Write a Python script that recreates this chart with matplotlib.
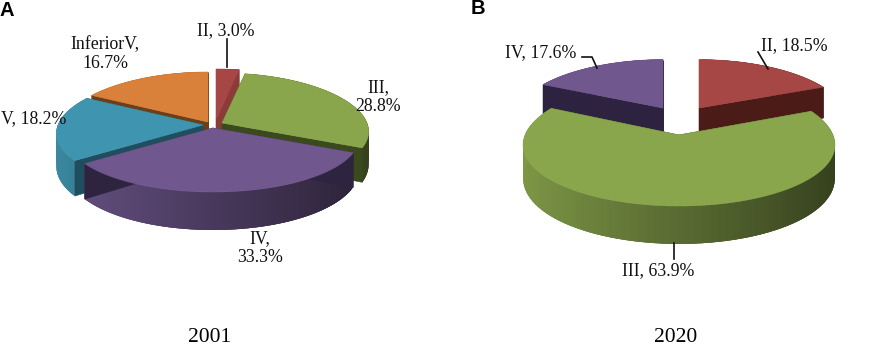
import numpy as np
import matplotlib
matplotlib.use("Agg")
import matplotlib.pyplot as plt
from matplotlib.colors import to_rgb

# Pie A (2001)
names_a = ["II", "III", "IV", "V", "InferiorV"]
values_a = [3.0, 28.8, 33.3, 18.2, 16.7]
# Pie B (2020)
names_b = ["II", "III", "IV"]
values_b = [18.5, 63.9, 17.6]
years = ["2001", "2020"]

RED = "#A64745"
GREEN = "#8AA64D"
PURPLE = "#70588F"
TEAL = "#3F95AF"
ORANGE = "#D9813A"


def project(ang, cx, cy, geo, scale=(1.0, 1.0)):
    # clockwise from the top, with a rough perspective: front is bigger than back
    yn = -np.cos(ang)
    x = cx + scale[0] * np.sin(ang) * (geo["a"] + geo["ak"] * yn)
    y = cy + scale[1] * yn * (geo["b"] + geo["bk"] * yn)
    return x, y


def depth(ang, geo):
    return geo["d"] + geo["dk"] * (-np.cos(ang))


def draw_pie(ax, values, colors, side_colors, apexes, scales, geo):
    edges = np.radians(np.concatenate([[0], np.cumsum(values)]) * 3.6)
    mids = (edges[:-1] + edges[1:]) / 2
    # back slices first
    for i in np.argsort(-np.cos(mids)):
        cx, cy = apexes[i]
        rgb = np.array(to_rgb(colors[i]))
        angs = np.linspace(edges[i], edges[i + 1], 90)
        x, y = project(angs, cx, cy, geo, scales[i])
        d = depth(angs, geo)

        # outer wall, shaded from left to right; strips overlap so no seams show
        for j in range(len(angs) - 1):
            n = min(j + 3, len(angs) - 1)
            f = 0.65 - 0.27 * np.sin(angs[j])
            ax.fill([x[j], x[n], x[n], x[j]],
                    [y[j], y[n], y[n] + d[n], y[j] + d[j]],
                    facecolor=tuple(rgb * f), edgecolor="none", zorder=2)

        # the two cut faces
        for k in (0, -1):
            ax.fill([cx, x[k], x[k], cx],
                    [cy, y[k], y[k] + d[k], cy + geo["d"]],
                    color=side_colors[i], lw=0.4, zorder=2)

        # top face
        ax.fill(np.r_[cx, x], np.r_[cy, y], color=colors[i], lw=0.4, zorder=2)


fig = plt.figure(figsize=(8.72, 3.48), dpi=100)
ax = fig.add_axes([0, 0, 1, 1])
ax.set_xlim(0, 872)
ax.set_ylim(348, 0)
ax.axis("off")

geo_a = {"a": 145, "ak": 22, "b": 57, "bk": 7, "d": 32, "dk": 6}
geo_b = {"a": 154, "ak": 25, "b": 63, "bk": 8, "d": 33, "dk": 5}

draw_pie(ax, values_a, [RED, GREEN, PURPLE, TEAL, ORANGE],
         ["#8D3B38", "#3B4A1C", "#2E2440", "#1F4F5F", "#6B3F17"],
         [(216, 119), (222, 123), (213, 128), (203, 125), (208, 122)],
         [(1, 1)] * 5, geo_a)
draw_pie(ax, values_b, [RED, GREEN, PURPLE],
         ["#4A1B17", "#35441B", "#2D2340"],
         [(699, 108), (679, 135), (663, 108)],
         [(0.94, 0.88), (1, 1), (0.94, 0.88)], geo_b)

# labels
serif = "Liberation Serif"
fs = 12.8
labels = [
    (226, 31, f"{names_a[0]}, {values_a[0]:.1f}%"),
    (378, 97, f"{names_a[1]},\n{values_a[1]:.1f}%"),
    (260, 248, f"{names_a[2]},\n{values_a[2]:.1f}%"),
    (34, 119, f"{names_a[3]}, {values_a[3]:.1f}%"),
    (105, 54, f"{names_a[4]},\n{values_a[4]:.1f}%"),
    (794, 46, f"{names_b[0]}, {values_b[0]:.1f}%"),
    (658, 271, f"{names_b[1]}, {values_b[1]:.1f}%"),
    (541, 53, f"{names_b[2]}, {values_b[2]:.1f}%"),
]
for x, y, s in labels:
    ax.text(x, y, s, family=serif, fontsize=fs, ha="center", va="center",
            color="#111111", linespacing=1.15, zorder=5)

# leader lines
leaders = [
    ([227, 227], [39, 67]),
    ([582, 592, 597], [57, 57, 68]),
    ([758, 768], [52, 69]),
    ([674, 674], [243, 259]),
]
for lx, ly in leaders:
    ax.plot(lx, ly, color="#111111", lw=1.2, zorder=4)

ax.text(210, 338, years[0], family=serif, fontsize=15.5, ha="center", va="center")
ax.text(676, 338, years[1], family=serif, fontsize=15.5, ha="center", va="center")

ax.text(0, 10, "A", family="Liberation Sans", weight="bold", fontsize=14.5, ha="left", va="center")
ax.text(471, 9, "B", family="Liberation Sans", weight="bold", fontsize=14.5, ha="left", va="center")

fig.savefig("out.png", dpi=100)
